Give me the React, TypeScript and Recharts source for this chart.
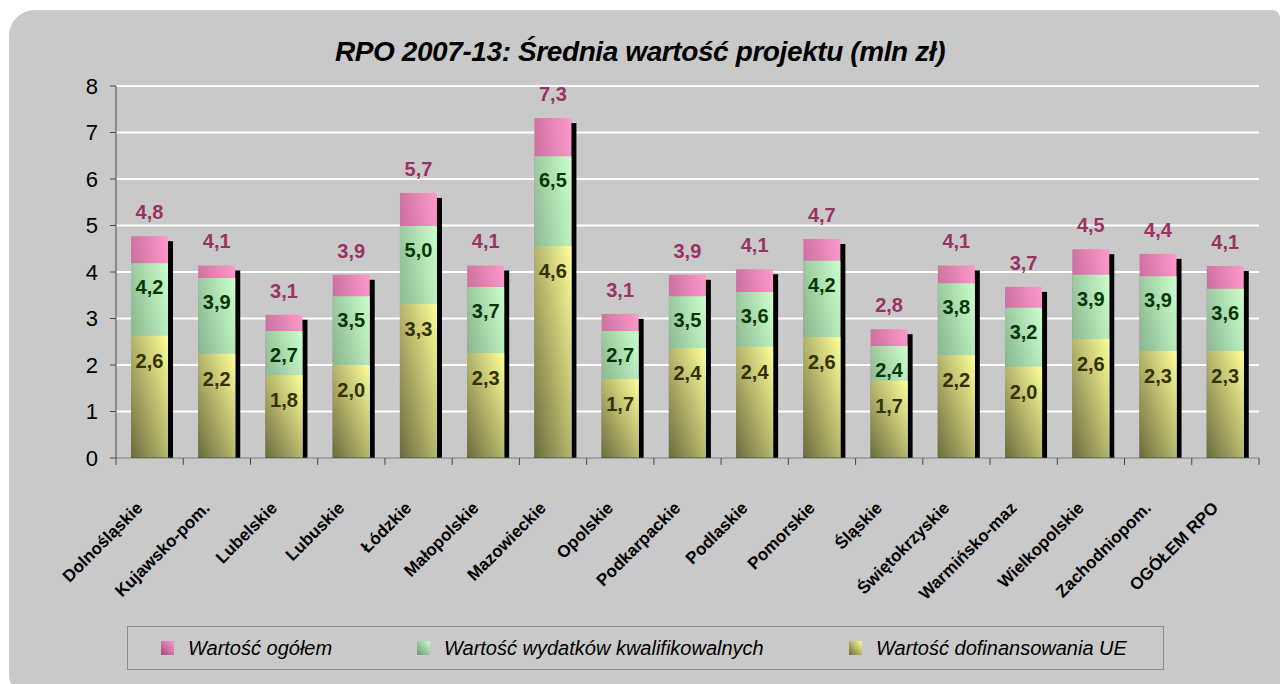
import React from 'react';
import {
  BarChart,
  Bar,
  XAxis,
  YAxis,
  CartesianGrid,
  LabelList,
} from 'recharts';

const categories = [
  'Dolnośląskie', 'Kujawsko-pom.', 'Lubelskie', 'Lubuskie', 'Łódzkie',
  'Małopolskie', 'Mazowieckie', 'Opolskie', 'Podkarpackie', 'Podlaskie',
  'Pomorskie', 'Śląskie', 'Świętokrzyskie', 'Warmińsko-maz', 'Wielkopolskie',
  'Zachodniopom.', 'OGÓŁEM RPO',
];

// Wartość ogółem
const totalValue = [4.77, 4.14, 3.08, 3.94, 5.70, 4.14, 7.31, 3.10, 3.94, 4.06, 4.71, 2.77, 4.14, 3.68, 4.49, 4.39, 4.13];
// Wartość wydatków kwalifikowalnych
const qualifiedValue = [4.19, 3.87, 2.73, 3.48, 4.99, 3.68, 6.49, 2.73, 3.48, 3.57, 4.24, 2.41, 3.76, 3.23, 3.94, 3.91, 3.64];
// Wartość dofinansowania UE
const euValue = [2.63, 2.24, 1.78, 2.00, 3.31, 2.26, 4.56, 1.70, 2.36, 2.39, 2.60, 1.66, 2.21, 1.96, 2.56, 2.30, 2.30];

const yTicks = [0, 1, 2, 3, 4, 5, 6, 7, 8];

const legendItems = [
  { label: 'Wartość ogółem', from: '#a0507a', to: '#ff99cc', width: 256 },
  { label: 'Wartość wydatków kwalifikowalnych', from: '#6a9676', to: '#ccffcc', width: 432 },
  { label: 'Wartość dofinansowania UE', from: '#6b6b3e', to: '#ffff99', width: 300 },
];

const FONT = '"Liberation Sans", Arial, sans-serif';
const AXIS = '#4a4a4a';

const data = categories.map((name, i) => ({
  name,
  total: totalValue[i],
  qualified: qualifiedValue[i],
  eu: euValue[i],
}));

const fmt = (v: number) => v.toFixed(1).replace('.', ',');

// pink bar + black drop shadow (5px right/down) behind it
function TotalShape(props: any) {
  const { x, y, width, height } = props;
  return (
    <g>
      <rect x={x + 5} y={y + 5} width={width} height={Math.max(0, height - 5)} fill="#000" />
      <rect x={x} y={y} width={width} height={height} fill="url(#gPink)" />
    </g>
  );
}

function makeLabel(color: string, dy: number) {
  return (p: any) => {
    const { x, y, width, value } = p;
    return (
      <text
        x={x + width / 2}
        y={y + dy}
        textAnchor="middle"
        dominantBaseline="central"
        fill={color}
        fontFamily={FONT}
        fontWeight="bold"
        fontSize={20}
      >
        {fmt(Number(value))}
      </text>
    );
  };
}

function CategoryTick(props: any) {
  const { x, y, payload, index } = props;
  const half = payload?.offset ?? 33.6;
  const ax = x - 6;
  const ay = y + 51;
  return (
    <g>
      <line x1={x - half} y1={y} x2={x - half} y2={y + 7} stroke={AXIS} />
      {index === categories.length - 1 && (
        <line x1={x + half} y1={y} x2={x + half} y2={y + 7} stroke={AXIS} />
      )}
      <text
        x={ax}
        y={ay}
        textAnchor="end"
        transform={`rotate(-45 ${ax} ${ay})`}
        fontFamily={FONT}
        fontWeight="bold"
        fontSize={17}
        fill="#000"
      >
        {payload.value}
      </text>
    </g>
  );
}

export default function App() {
  return (
    <div style={{ position: 'absolute', left: 0, top: 0, width: 1280, height: 684, background: '#fff', overflow: 'hidden' }}>
      <div
        style={{
          position: 'absolute', left: 9, top: 10, width: 1271, height: 690,
          background: '#c9c9c9', borderRadius: '26px 8px 0 26px',
        }}
      />
      <div
        style={{
          position: 'absolute', left: 0, top: 36, width: 1280, textAlign: 'center',
          fontFamily: FONT, fontWeight: 'bold', fontStyle: 'italic', fontSize: 28, color: '#000',
          letterSpacing: -0.4, lineHeight: '32px',
        }}
      >
        RPO 2007-13: Średnia wartość projektu (mln zł)
      </div>

      <div style={{ position: 'absolute', left: 0, top: 0 }}>
        <BarChart
          width={1280}
          height={684}
          data={data}
          margin={{ top: 86, right: 21, bottom: 56, left: 56 }}
        >
          <defs>
            <linearGradient id="gPink" x1="0" y1="1" x2="1" y2="0">
              <stop offset="0%" stopColor="#a0507a" />
              <stop offset="100%" stopColor="#ff99cc" />
            </linearGradient>
            <linearGradient id="gGreen" x1="0" y1="1" x2="1" y2="0">
              <stop offset="0%" stopColor="#6a9676" />
              <stop offset="100%" stopColor="#ccffcc" />
            </linearGradient>
            <linearGradient id="gYellow" x1="0" y1="1" x2="1" y2="0">
              <stop offset="0%" stopColor="#6b6b3e" />
              <stop offset="100%" stopColor="#ffff99" />
            </linearGradient>
          </defs>
          <CartesianGrid xAxisId="a" vertical={false} stroke="#ffffff" strokeWidth={2} />
          <XAxis
            xAxisId="a"
            dataKey="name"
            interval={0}
            height={170}
            tickSize={0}
            tickMargin={0}
            tickLine={false}
            axisLine={{ stroke: AXIS }}
            tick={<CategoryTick />}
          />
          <XAxis xAxisId="b" dataKey="name" hide />
          <XAxis xAxisId="c" dataKey="name" hide />
          <YAxis
            width={60}
            domain={[0, 8]}
            ticks={yTicks}
            interval={0}
            tickSize={6}
            tickMargin={12}
            axisLine={{ stroke: AXIS }}
            tickLine={{ stroke: AXIS }}
            tick={{ fill: '#000', fontSize: 22, fontFamily: FONT }}
          />
          <Bar xAxisId="c" dataKey="total" barSize={37} shape={<TotalShape />} isAnimationActive={false}>
            <LabelList dataKey="total" content={makeLabel('#993366', -24)} />
          </Bar>
          <Bar xAxisId="b" dataKey="qualified" barSize={37} fill="url(#gGreen)" isAnimationActive={false}>
            <LabelList dataKey="qualified" content={makeLabel('#063806', 24)} />
          </Bar>
          <Bar xAxisId="a" dataKey="eu" barSize={37} fill="url(#gYellow)" isAnimationActive={false}>
            <LabelList dataKey="eu" content={makeLabel('#333300', 25)} />
          </Bar>
        </BarChart>
      </div>

      <div
        style={{
          position: 'absolute', left: 127, top: 626, width: 1035, height: 42,
          border: '1px solid #8a8a8a', display: 'flex', alignItems: 'center',
          fontFamily: FONT, fontStyle: 'italic', fontSize: 20, color: '#000',
        }}
      >
        <div style={{ width: 33 }} />
        {legendItems.map((it) => (
          <div key={it.label} style={{ width: it.width, display: 'flex', alignItems: 'center' }}>
            <span
              style={{
                display: 'inline-block', width: 13, height: 14, marginRight: 14,
                background: `linear-gradient(to top right, ${it.from}, ${it.to})`,
              }}
            />
            <span style={{ whiteSpace: 'nowrap' }}>{it.label}</span>
          </div>
        ))}
      </div>
    </div>
  );
}
